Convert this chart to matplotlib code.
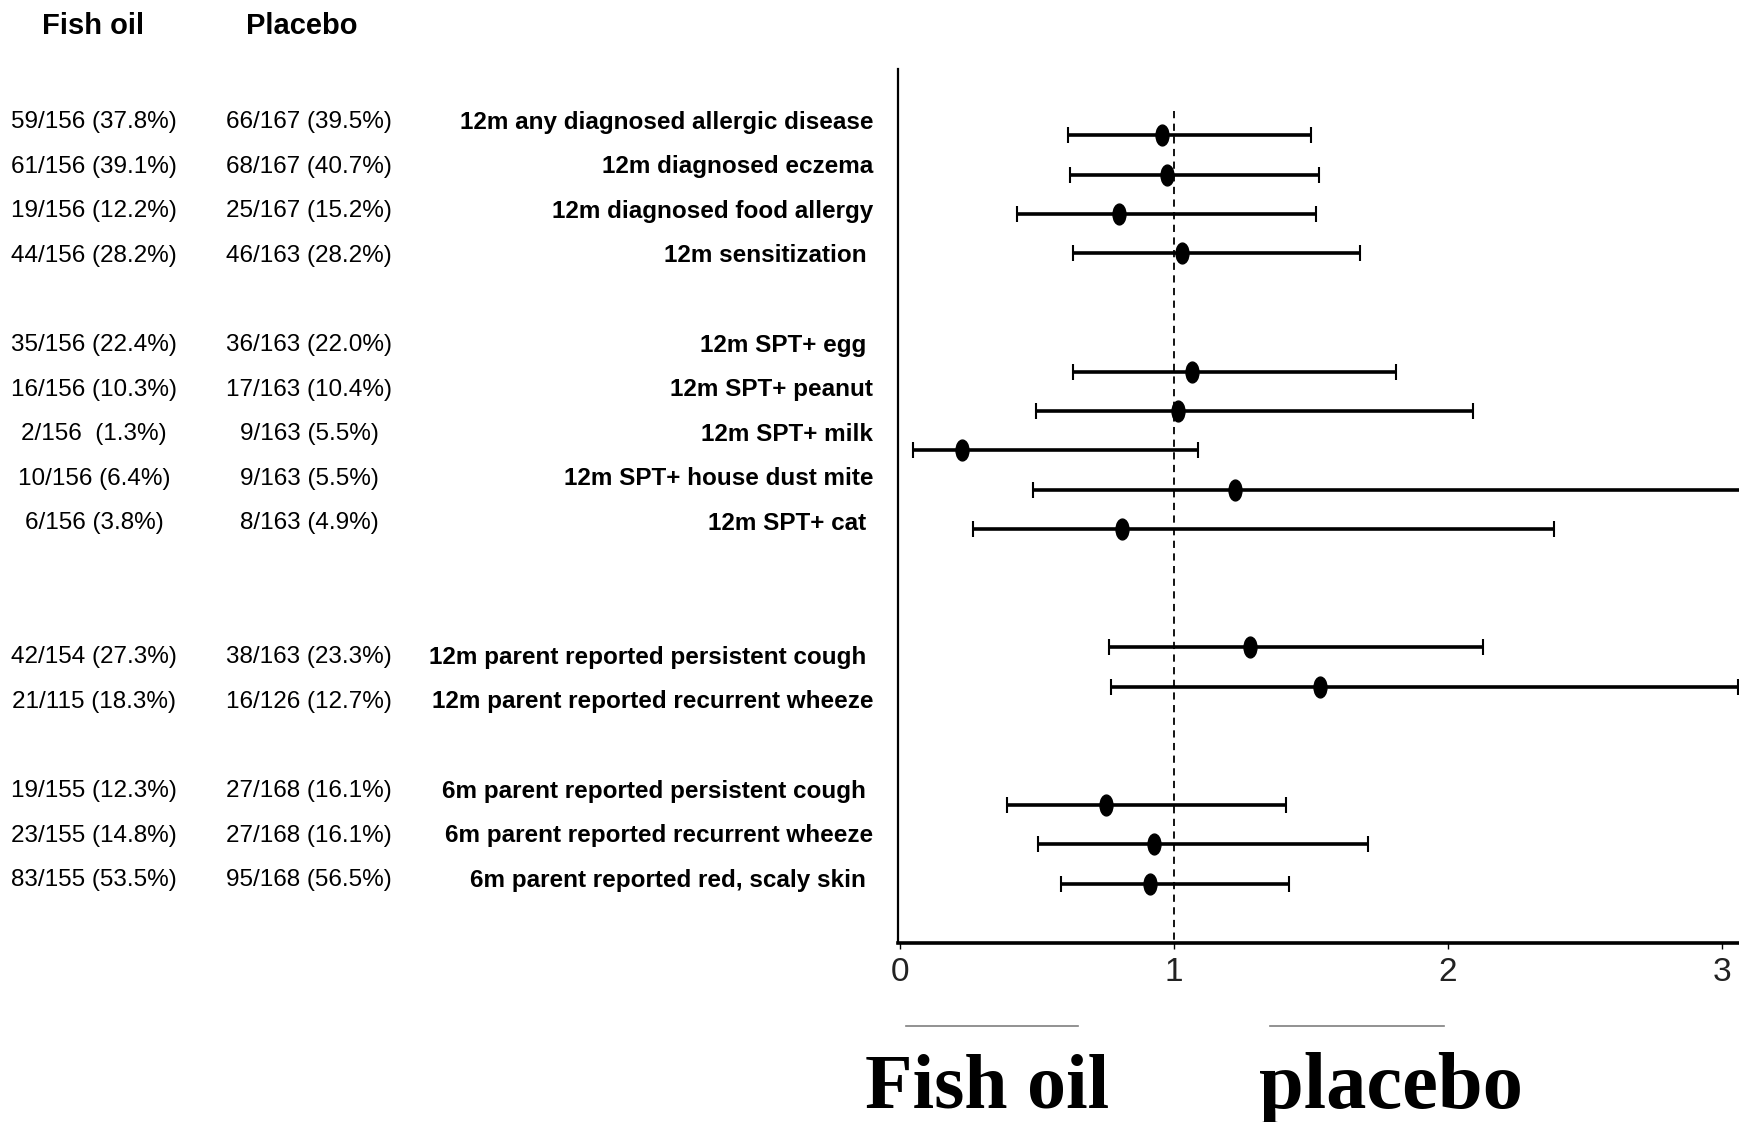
import matplotlib
matplotlib.use("Agg")
import matplotlib.pyplot as plt
from matplotlib.path import Path
from matplotlib.transforms import Affine2D

# counts per arm
fish_oil = ["59/156 (37.8%)", "61/156 (39.1%)", "19/156 (12.2%)", "44/156 (28.2%)",
            "35/156 (22.4%)", "16/156 (10.3%)", "2/156  (1.3%)", "10/156 (6.4%)",
            "6/156 (3.8%)", "42/154 (27.3%)", "21/115 (18.3%)", "19/155 (12.3%)",
            "23/155 (14.8%)", "83/155 (53.5%)"]
placebo = ["66/167 (39.5%)", "68/167 (40.7%)", "25/167 (15.2%)", "46/163 (28.2%)",
           "36/163 (22.0%)", "17/163 (10.4%)", "9/163 (5.5%)", "9/163 (5.5%)",
           "8/163 (4.9%)", "38/163 (23.3%)", "16/126 (12.7%)", "27/168 (16.1%)",
           "27/168 (16.1%)", "95/168 (56.5%)"]
outcomes = ["12m any diagnosed allergic disease", "12m diagnosed eczema",
            "12m diagnosed food allergy", "12m sensitization ", "12m SPT+ egg ",
            "12m SPT+ peanut", "12m SPT+ milk", "12m SPT+ house dust mite",
            "12m SPT+ cat ", "12m parent reported persistent cough ",
            "12m parent reported recurrent wheeze", "6m parent reported persistent cough ",
            "6m parent reported recurrent wheeze", "6m parent reported red, scaly skin "]

# relative risk and 95% CI
rr = [0.955, 0.976, 0.80, 1.028, 1.065, 1.016, 0.228, 1.224, 0.809, 1.276, 1.533, 0.752, 0.927, 0.911]
ci_lo = [0.614, 0.622, 0.427, 0.630, 0.630, 0.496, 0.049, 0.484, 0.268, 0.764, 0.772, 0.390, 0.504, 0.589]
ci_hi = [1.50, 1.528, 1.520, 1.679, 1.81, 2.093, 1.089, 3.40, 2.386, 2.126, 3.06, 1.41, 1.707, 1.419]

# row slots (text table and forest panel use different spacing)
text_rows = [0, 1, 2, 3, 5, 6, 7, 8, 9, 12, 13, 15, 16, 17]
plot_rows = [0, 1, 2, 3, 6, 7, 8, 9, 10, 13, 14, 17, 18, 19]

W, H = 1739, 1122
fig = plt.figure(figsize=(W / 100, H / 100), dpi=100)

sans = ["Liberation Sans", "DejaVu Sans"]
serif = ["Liberation Serif", "DejaVu Serif"]

# full-figure layer in pixel units for the table text
bg = fig.add_axes([0, 0, 1, 1])
bg.set_xlim(0, W)
bg.set_ylim(H, 0)
bg.axis("off")

bg.text(93, 26, "Fish oil", ha="center", va="center", fontsize=21,
        fontweight="bold", family=sans)
bg.text(302, 26, "Placebo", ha="center", va="center", fontsize=21,
        fontweight="bold", family=sans)

for r, f, p, o in zip(text_rows, fish_oil, placebo, outcomes):
    y = 122 + 44.6 * r
    bg.text(94, y, f, ha="center", va="center", fontsize=17.5, family=sans)
    bg.text(309, y, p, ha="center", va="center", fontsize=17.5, family=sans)
    bg.text(873, y, o, ha="right", va="center", fontsize=17.5,
            fontweight="bold", family=sans)

# direction labels under the axis
bg.plot([906, 1078], [1026, 1026], color="#7f7f7f", lw=1.2)
bg.plot([1270, 1444], [1026, 1026], color="#7f7f7f", lw=1.2)
bg.text(987, 1108, "Fish oil", ha="center", va="baseline", fontsize=56,
        fontweight="bold", family=serif)
bg.text(1391, 1108, "placebo", ha="center", va="baseline", fontsize=58,
        fontweight="bold", family=serif)

# forest panel
left = 898 / W
bottom = 1 - 943 / H
ax = fig.add_axes([left, bottom, 1 - left, (943 - 69) / H])
ax.set_xlim(-0.007, 3.062)
ax.set_ylim(20.5, -1.68)

ax.vlines(1, -0.62, 20.5, colors="black", linestyles=(0, (4, 3)), lw=1.3)

oval = Path.unit_circle().transformed(Affine2D().scale(0.62, 1.0))
ax.errorbar(rr, plot_rows,
            xerr=[[m - l for m, l in zip(rr, ci_lo)], [h - m for m, h in zip(rr, ci_hi)]],
            fmt="none", ecolor="black", elinewidth=2.6, capsize=6, capthick=1.5)
ax.plot(rr, plot_rows, linestyle="none", marker=oval, markersize=15,
        color="black", clip_on=False)

for side in ["top", "right"]:
    ax.spines[side].set_visible(False)
ax.spines["left"].set_linewidth(1.6)
ax.spines["bottom"].set_linewidth(2.6)
ax.set_yticks([])
ax.set_xticks([0, 1, 2, 3])
ax.tick_params(axis="x", length=4, width=1, pad=6, labelsize=24, labelcolor="#222222")
for lab in ax.get_xticklabels():
    lab.set_family(sans)

fig.savefig("out.png", dpi=100)
